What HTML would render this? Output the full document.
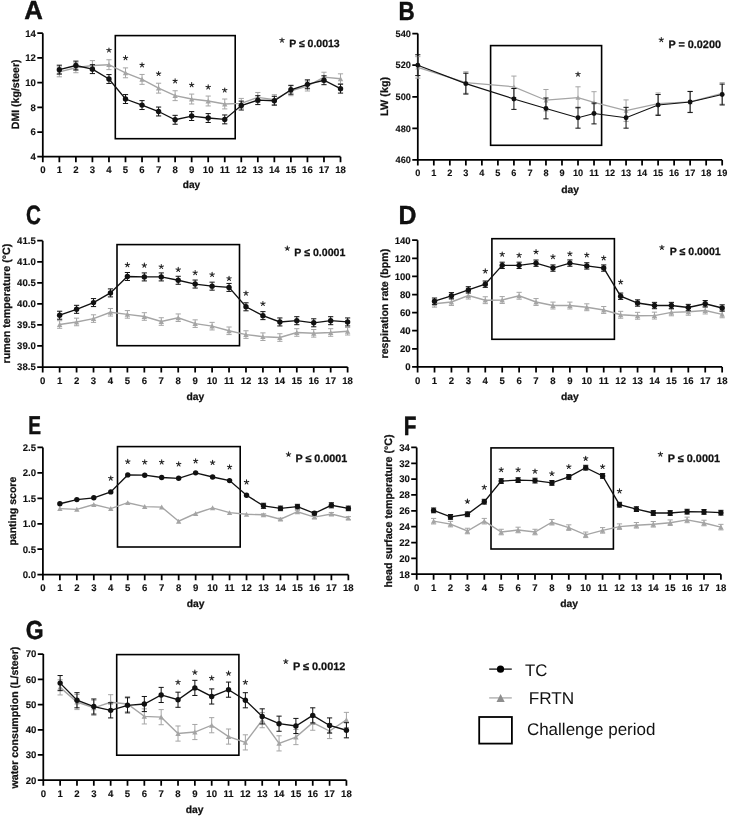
<!DOCTYPE html>
<html><head><meta charset="utf-8"><style>
html,body{margin:0;padding:0;background:#fff;}
svg{display:block;will-change:transform;}
text{font-family:"Liberation Sans", sans-serif;fill:#111;text-rendering:geometricPrecision;}
.tk{font-weight:bold;stroke:#111;stroke-width:0.12px;}
.as{font-weight:normal;}
.pt{font-weight:bold;stroke:#111;stroke-width:0.25px;}
.lt{font-weight:bold;stroke:#000;stroke-width:0.4px;}
.yl{font-weight:bold;stroke:#111;stroke-width:0.25px;}
.lg{font-size:16.5px;font-weight:normal;}
</style></head><body>
<svg width="729" height="817" viewBox="0 0 729 817">
<rect width="729" height="817" fill="#fff"/>
<path d="M42.8 33.2V156.7H340.52" fill="none" stroke="#000" stroke-width="1.75"/>
<text x="35.9" y="160.06" text-anchor="end" class="tk" style="font-size:9.6px">4</text>
<text x="35.9" y="135.36" text-anchor="end" class="tk" style="font-size:9.6px">6</text>
<text x="35.9" y="110.66" text-anchor="end" class="tk" style="font-size:9.6px">8</text>
<text x="35.9" y="85.96" text-anchor="end" class="tk" style="font-size:9.6px">10</text>
<text x="35.9" y="61.26" text-anchor="end" class="tk" style="font-size:9.6px">12</text>
<text x="35.9" y="36.56" text-anchor="end" class="tk" style="font-size:9.6px">14</text>
<text x="42.8" y="172.7" text-anchor="middle" class="tk" style="font-size:9.6px">0</text>
<text x="59.34" y="172.7" text-anchor="middle" class="tk" style="font-size:9.6px">1</text>
<text x="75.88" y="172.7" text-anchor="middle" class="tk" style="font-size:9.6px">2</text>
<text x="92.42" y="172.7" text-anchor="middle" class="tk" style="font-size:9.6px">3</text>
<text x="108.96" y="172.7" text-anchor="middle" class="tk" style="font-size:9.6px">4</text>
<text x="125.5" y="172.7" text-anchor="middle" class="tk" style="font-size:9.6px">5</text>
<text x="142.04" y="172.7" text-anchor="middle" class="tk" style="font-size:9.6px">6</text>
<text x="158.58" y="172.7" text-anchor="middle" class="tk" style="font-size:9.6px">7</text>
<text x="175.12" y="172.7" text-anchor="middle" class="tk" style="font-size:9.6px">8</text>
<text x="191.66" y="172.7" text-anchor="middle" class="tk" style="font-size:9.6px">9</text>
<text x="208.2" y="172.7" text-anchor="middle" class="tk" style="font-size:9.6px">10</text>
<text x="224.74" y="172.7" text-anchor="middle" class="tk" style="font-size:9.6px">11</text>
<text x="241.28" y="172.7" text-anchor="middle" class="tk" style="font-size:9.6px">12</text>
<text x="257.82" y="172.7" text-anchor="middle" class="tk" style="font-size:9.6px">13</text>
<text x="274.36" y="172.7" text-anchor="middle" class="tk" style="font-size:9.6px">14</text>
<text x="290.9" y="172.7" text-anchor="middle" class="tk" style="font-size:9.6px">15</text>
<text x="307.44" y="172.7" text-anchor="middle" class="tk" style="font-size:9.6px">16</text>
<text x="323.98" y="172.7" text-anchor="middle" class="tk" style="font-size:9.6px">17</text>
<text x="340.52" y="172.7" text-anchor="middle" class="tk" style="font-size:9.6px">18</text>
<path d="M37.3 156.7H42.8M37.3 132H42.8M37.3 107.3H42.8M37.3 82.6H42.8M37.3 57.9H42.8M37.3 33.2H42.8M42.8 156.7V162.2M59.34 156.7V162.2M75.88 156.7V162.2M92.42 156.7V162.2M108.96 156.7V162.2M125.5 156.7V162.2M142.04 156.7V162.2M158.58 156.7V162.2M175.12 156.7V162.2M191.66 156.7V162.2M208.2 156.7V162.2M224.74 156.7V162.2M241.28 156.7V162.2M257.82 156.7V162.2M274.36 156.7V162.2M290.9 156.7V162.2M307.44 156.7V162.2M323.98 156.7V162.2M340.52 156.7V162.2" fill="none" stroke="#000" stroke-width="1.75"/>
<rect x="115.3" y="35.6" width="119.9" height="103.1" fill="none" stroke="#000" stroke-width="1.6"/>
<path d="M59.34 66.92V76.8M56.74 66.92H61.94M56.74 76.8H61.94M75.88 62.84V72.72M73.28 62.84H78.48M73.28 72.72H78.48M92.42 60.62V70.5M89.82 60.62H95.02M89.82 70.5H95.02M108.96 59.75V69.63M106.36 59.75H111.56M106.36 69.63H111.56M125.5 67.9V77.78M122.9 67.9H128.1M122.9 77.78H128.1M142.04 74.45V84.33M139.44 74.45H144.64M139.44 84.33H144.64M158.58 83.22V93.1M155.98 83.22H161.18M155.98 93.1H161.18M175.12 90.75V100.63M172.52 90.75H177.72M172.52 100.63H177.72M191.66 94.09V103.97M189.06 94.09H194.26M189.06 103.97H194.26M208.2 96.06V105.94M205.6 96.06H210.8M205.6 105.94H210.8M224.74 99.03V108.91M222.14 99.03H227.34M222.14 108.91H227.34M241.28 98.41V108.29M238.68 98.41H243.88M238.68 108.29H243.88M257.82 92.48V102.36M255.22 92.48H260.42M255.22 102.36H260.42M274.36 94.7V104.58M271.76 94.7H276.96M271.76 104.58H276.96M290.9 85.81V95.69M288.3 85.81H293.5M288.3 95.69H293.5M307.44 81.12V91M304.84 81.12H310.04M304.84 91H310.04M323.98 72.23V82.11M321.38 72.23H326.58M321.38 82.11H326.58M340.52 73.83V83.71M337.92 73.83H343.12M337.92 83.71H343.12" fill="none" stroke="#a5a5a5" stroke-width="1"/>
<polyline points="59.34,71.86 75.88,67.78 92.42,65.56 108.96,64.69 125.5,72.84 142.04,79.39 158.58,88.16 175.12,95.69 191.66,99.03 208.2,101 224.74,103.97 241.28,103.35 257.82,97.42 274.36,99.64 290.9,90.75 307.44,86.06 323.98,77.17 340.52,78.77" fill="none" stroke="#a5a5a5" stroke-width="1.4"/>
<g fill="#a5a5a5"><path d="M59.34 69.31L62.02 74.28H56.66Z"/><path d="M75.88 65.23L78.56 70.2H73.2Z"/><path d="M92.42 63.01L95.1 67.98H89.74Z"/><path d="M108.96 62.14L111.64 67.12H106.28Z"/><path d="M125.5 70.29L128.18 75.27H122.82Z"/><path d="M142.04 76.84L144.72 81.81H139.36Z"/><path d="M158.58 85.61L161.26 90.58H155.9Z"/><path d="M175.12 93.14L177.8 98.11H172.44Z"/><path d="M191.66 96.48L194.34 101.45H188.98Z"/><path d="M208.2 98.45L210.88 103.42H205.52Z"/><path d="M224.74 101.42L227.42 106.39H222.06Z"/><path d="M241.28 100.8L243.96 105.77H238.6Z"/><path d="M257.82 94.87L260.5 99.84H255.14Z"/><path d="M274.36 97.09L277.04 102.07H271.68Z"/><path d="M290.9 88.2L293.58 93.17H288.22Z"/><path d="M307.44 83.51L310.12 88.48H304.76Z"/><path d="M323.98 74.62L326.66 79.59H321.3Z"/><path d="M340.52 76.22L343.2 81.19H337.84Z"/></g>
<path d="M59.34 65.19V74.08M56.74 65.19H61.94M56.74 74.08H61.94M75.88 61.11V70M73.28 61.11H78.48M73.28 70H78.48M92.42 64.69V73.58M89.82 64.69H95.02M89.82 73.58H95.02M108.96 74.57V83.46M106.36 74.57H111.56M106.36 83.46H111.56M125.5 94.58V103.47M122.9 94.58H128.1M122.9 103.47H128.1M142.04 100.63V109.52M139.44 100.63H144.64M139.44 109.52H144.64M158.58 107.05V115.94M155.98 107.05H161.18M155.98 115.94H161.18M175.12 115.33V124.22M172.52 115.33H177.72M172.52 124.22H177.72M191.66 111.62V120.51M189.06 111.62H194.26M189.06 120.51H194.26M208.2 113.6V122.49M205.6 113.6H210.8M205.6 122.49H210.8M224.74 114.96V123.85M222.14 114.96H227.34M222.14 123.85H227.34M241.28 101.12V110.02M238.68 101.12H243.88M238.68 110.02H243.88M257.82 95.69V104.58M255.22 95.69H260.42M255.22 104.58H260.42M274.36 96.31V105.2M271.76 96.31H276.96M271.76 105.2H276.96M290.9 85.32V94.21M288.3 85.32H293.5M288.3 94.21H293.5M307.44 79.88V88.78M304.84 79.88H310.04M304.84 88.78H310.04M323.98 75.81V84.7M321.38 75.81H326.58M321.38 84.7H326.58M340.52 84.21V93.1M337.92 84.21H343.12M337.92 93.1H343.12" fill="none" stroke="#111" stroke-width="1"/>
<polyline points="59.34,69.63 75.88,65.56 92.42,69.14 108.96,79.02 125.5,99.03 142.04,105.08 158.58,111.5 175.12,119.77 191.66,116.07 208.2,118.04 224.74,119.4 241.28,105.57 257.82,100.14 274.36,100.75 290.9,89.76 307.44,84.33 323.98,80.25 340.52,88.65" fill="none" stroke="#111" stroke-width="1.35"/>
<g fill="#111"><circle cx="59.34" cy="69.63" r="2.7"/><circle cx="75.88" cy="65.56" r="2.7"/><circle cx="92.42" cy="69.14" r="2.7"/><circle cx="108.96" cy="79.02" r="2.7"/><circle cx="125.5" cy="99.03" r="2.7"/><circle cx="142.04" cy="105.08" r="2.7"/><circle cx="158.58" cy="111.5" r="2.7"/><circle cx="175.12" cy="119.77" r="2.7"/><circle cx="191.66" cy="116.07" r="2.7"/><circle cx="208.2" cy="118.04" r="2.7"/><circle cx="224.74" cy="119.4" r="2.7"/><circle cx="241.28" cy="105.57" r="2.7"/><circle cx="257.82" cy="100.14" r="2.7"/><circle cx="274.36" cy="100.75" r="2.7"/><circle cx="290.9" cy="89.76" r="2.7"/><circle cx="307.44" cy="84.33" r="2.7"/><circle cx="323.98" cy="80.25" r="2.7"/><circle cx="340.52" cy="88.65" r="2.7"/></g>
<path d="M108.96 50.2L108.96 47.9M108.96 50.2L111.15 49.49M108.96 50.2L110.31 52.06M108.96 50.2L107.61 52.06M108.96 50.2L106.77 49.49M125.5 57.9L125.5 55.6M125.5 57.9L127.69 57.19M125.5 57.9L126.85 59.76M125.5 57.9L124.15 59.76M125.5 57.9L123.31 57.19M142.04 65L142.04 62.7M142.04 65L144.23 64.29M142.04 65L143.39 66.86M142.04 65L140.69 66.86M142.04 65L139.85 64.29M158.58 73.7L158.58 71.4M158.58 73.7L160.77 72.99M158.58 73.7L159.93 75.56M158.58 73.7L157.23 75.56M158.58 73.7L156.39 72.99M175.12 81L175.12 78.7M175.12 81L177.31 80.29M175.12 81L176.47 82.86M175.12 81L173.77 82.86M175.12 81L172.93 80.29M191.66 84.9L191.66 82.6M191.66 84.9L193.85 84.19M191.66 84.9L193.01 86.76M191.66 84.9L190.31 86.76M191.66 84.9L189.47 84.19M208.2 87.1L208.2 84.8M208.2 87.1L210.39 86.39M208.2 87.1L209.55 88.96M208.2 87.1L206.85 88.96M208.2 87.1L206.01 86.39M224.74 90.2L224.74 87.9M224.74 90.2L226.93 89.49M224.74 90.2L226.09 92.06M224.74 90.2L223.39 92.06M224.74 90.2L222.55 89.49M282 40.3L282 38M282 40.3L284.19 39.59M282 40.3L283.35 42.16M282 40.3L280.65 42.16M282 40.3L279.81 39.59" fill="none" stroke="#222" stroke-width="1.05" stroke-linecap="round"/>
<text x="289.2" y="47.3" class="pt" style="font-size:10.5px">P ≤ 0.0013</text>
<text transform="translate(24.3 19.4) scale(0.98 1)" class="lt" style="font-size:26.3px">A</text>
<text transform="translate(18.9 94.3) rotate(-90)" text-anchor="middle" class="yl" style="font-size:10.55px">DMI (kg/steer)</text>
<text x="191.5" y="188.3" text-anchor="middle" class="yl" style="font-size:10.1px">day</text>
<path d="M417.8 33.6V159.9H722.18" fill="none" stroke="#000" stroke-width="1.75"/>
<text x="410.9" y="163.12" text-anchor="end" class="tk" style="font-size:9.2px">460</text>
<text x="410.9" y="131.54" text-anchor="end" class="tk" style="font-size:9.2px">480</text>
<text x="410.9" y="99.97" text-anchor="end" class="tk" style="font-size:9.2px">500</text>
<text x="410.9" y="68.39" text-anchor="end" class="tk" style="font-size:9.2px">520</text>
<text x="410.9" y="36.82" text-anchor="end" class="tk" style="font-size:9.2px">540</text>
<text x="417.8" y="176.2" text-anchor="middle" class="tk" style="font-size:9.2px">0</text>
<text x="433.82" y="176.2" text-anchor="middle" class="tk" style="font-size:9.2px">1</text>
<text x="449.84" y="176.2" text-anchor="middle" class="tk" style="font-size:9.2px">2</text>
<text x="465.86" y="176.2" text-anchor="middle" class="tk" style="font-size:9.2px">3</text>
<text x="481.88" y="176.2" text-anchor="middle" class="tk" style="font-size:9.2px">4</text>
<text x="497.9" y="176.2" text-anchor="middle" class="tk" style="font-size:9.2px">5</text>
<text x="513.92" y="176.2" text-anchor="middle" class="tk" style="font-size:9.2px">6</text>
<text x="529.94" y="176.2" text-anchor="middle" class="tk" style="font-size:9.2px">7</text>
<text x="545.96" y="176.2" text-anchor="middle" class="tk" style="font-size:9.2px">8</text>
<text x="561.98" y="176.2" text-anchor="middle" class="tk" style="font-size:9.2px">9</text>
<text x="578" y="176.2" text-anchor="middle" class="tk" style="font-size:9.2px">10</text>
<text x="594.02" y="176.2" text-anchor="middle" class="tk" style="font-size:9.2px">11</text>
<text x="610.04" y="176.2" text-anchor="middle" class="tk" style="font-size:9.2px">12</text>
<text x="626.06" y="176.2" text-anchor="middle" class="tk" style="font-size:9.2px">13</text>
<text x="642.08" y="176.2" text-anchor="middle" class="tk" style="font-size:9.2px">14</text>
<text x="658.1" y="176.2" text-anchor="middle" class="tk" style="font-size:9.2px">15</text>
<text x="674.12" y="176.2" text-anchor="middle" class="tk" style="font-size:9.2px">16</text>
<text x="690.14" y="176.2" text-anchor="middle" class="tk" style="font-size:9.2px">17</text>
<text x="706.16" y="176.2" text-anchor="middle" class="tk" style="font-size:9.2px">18</text>
<text x="722.18" y="176.2" text-anchor="middle" class="tk" style="font-size:9.2px">19</text>
<path d="M412.3 159.9H417.8M412.3 128.32H417.8M412.3 96.75H417.8M412.3 65.17H417.8M412.3 33.6H417.8M417.8 159.9V165.4M433.82 159.9V165.4M449.84 159.9V165.4M465.86 159.9V165.4M481.88 159.9V165.4M497.9 159.9V165.4M513.92 159.9V165.4M529.94 159.9V165.4M545.96 159.9V165.4M561.98 159.9V165.4M578 159.9V165.4M594.02 159.9V165.4M610.04 159.9V165.4M626.06 159.9V165.4M642.08 159.9V165.4M658.1 159.9V165.4M674.12 159.9V165.4M690.14 159.9V165.4M706.16 159.9V165.4M722.18 159.9V165.4" fill="none" stroke="#000" stroke-width="1.75"/>
<rect x="490.6" y="45.6" width="111" height="99.7" fill="none" stroke="#000" stroke-width="1.6"/>
<path d="M417.8 56.65V78.12M415.2 56.65H420.4M415.2 78.12H420.4M465.86 71.81V93.28M463.26 71.81H468.46M463.26 93.28H468.46M513.92 76.07V97.54M511.32 76.07H516.52M511.32 97.54H516.52M545.96 89.49V110.96M543.36 89.49H548.56M543.36 110.96H548.56M578 86.8V108.27M575.4 86.8H580.6M575.4 108.27H580.6M594.02 91.7V113.17M591.42 91.7H596.62M591.42 113.17H596.62M626.06 99.91V121.38M623.46 99.91H628.66M623.46 121.38H628.66M658.1 92.96V114.43M655.5 92.96H660.7M655.5 114.43H660.7M690.14 91.22V112.7M687.54 91.22H692.74M687.54 112.7H692.74M722.18 82.7V104.17M719.58 82.7H724.78M719.58 104.17H724.78" fill="none" stroke="#a5a5a5" stroke-width="1"/>
<polyline points="417.8,67.39 465.86,82.54 513.92,86.8 545.96,100.22 578,97.54 594.02,102.43 626.06,110.64 658.1,103.7 690.14,101.96 722.18,93.43" fill="none" stroke="#a5a5a5" stroke-width="1.25"/>
<g fill="#a5a5a5"><path d="M417.8 65.09L420.22 69.57H415.38Z"/><path d="M465.86 80.24L468.28 84.73H463.44Z"/><path d="M513.92 84.5L516.34 88.99H511.51Z"/><path d="M545.96 97.92L548.38 102.41H543.55Z"/><path d="M578 95.24L580.41 99.72H575.59Z"/><path d="M594.02 100.13L596.43 104.62H591.61Z"/><path d="M626.06 108.34L628.47 112.83H623.64Z"/><path d="M658.1 101.4L660.51 105.88H655.69Z"/><path d="M690.14 99.66L692.55 104.14H687.73Z"/><path d="M722.18 91.13L724.6 95.62H719.77Z"/></g>
<path d="M417.8 54.76V75.59M415.2 54.76H420.4M415.2 75.59H420.4M465.86 73.23V94.07M463.26 73.23H468.46M463.26 94.07H468.46M513.92 88.54V109.38M511.32 88.54H516.52M511.32 109.38H516.52M545.96 98.01V118.85M543.36 98.01H548.56M543.36 118.85H548.56M578 107.33V128.17M575.4 107.33H580.6M575.4 128.17H580.6M594.02 103.07V123.9M591.42 103.07H596.62M591.42 123.9H596.62M626.06 107.33V128.17M623.46 107.33H628.66M623.46 128.17H628.66M658.1 94.54V115.38M655.5 94.54H660.7M655.5 115.38H660.7M690.14 91.54V112.38M687.54 91.54H692.74M687.54 112.38H692.74M722.18 84.12V104.96M719.58 84.12H724.78M719.58 104.96H724.78" fill="none" stroke="#111" stroke-width="1"/>
<polyline points="417.8,65.17 465.86,83.65 513.92,98.96 545.96,108.43 578,117.75 594.02,113.48 626.06,117.75 658.1,104.96 690.14,101.96 722.18,94.54" fill="none" stroke="#111" stroke-width="1.15"/>
<g fill="#111"><circle cx="417.8" cy="65.17" r="2.45"/><circle cx="465.86" cy="83.65" r="2.45"/><circle cx="513.92" cy="98.96" r="2.45"/><circle cx="545.96" cy="108.43" r="2.45"/><circle cx="578" cy="117.75" r="2.45"/><circle cx="594.02" cy="113.48" r="2.45"/><circle cx="626.06" cy="117.75" r="2.45"/><circle cx="658.1" cy="104.96" r="2.45"/><circle cx="690.14" cy="101.96" r="2.45"/><circle cx="722.18" cy="94.54" r="2.45"/></g>
<path d="M578 74.3L578 72M578 74.3L580.19 73.59M578 74.3L579.35 76.16M578 74.3L576.65 76.16M578 74.3L575.81 73.59M661.3 39.8L661.3 37.5M661.3 39.8L663.49 39.09M661.3 39.8L662.65 41.66M661.3 39.8L659.95 41.66M661.3 39.8L659.11 39.09" fill="none" stroke="#222" stroke-width="1.05" stroke-linecap="round"/>
<text x="668.4" y="47.9" class="pt" style="font-size:10.85px">P = 0.0200</text>
<text transform="translate(398.4 19.6) scale(0.857 1)" class="lt" style="font-size:26.2px">B</text>
<text transform="translate(387.6 96.4) rotate(-90)" text-anchor="middle" class="yl" style="font-size:10.8px">LW (kg)</text>
<text x="570" y="192.8" text-anchor="middle" class="yl" style="font-size:10.3px">day</text>
<path d="M42.7 240.7V367H347.62" fill="none" stroke="#000" stroke-width="1.75"/>
<text x="35.8" y="370.36" text-anchor="end" class="tk" style="font-size:9.6px">38.5</text>
<text x="35.8" y="349.31" text-anchor="end" class="tk" style="font-size:9.6px">39.0</text>
<text x="35.8" y="328.26" text-anchor="end" class="tk" style="font-size:9.6px">39.5</text>
<text x="35.8" y="307.21" text-anchor="end" class="tk" style="font-size:9.6px">40.0</text>
<text x="35.8" y="286.16" text-anchor="end" class="tk" style="font-size:9.6px">40.5</text>
<text x="35.8" y="265.11" text-anchor="end" class="tk" style="font-size:9.6px">41.0</text>
<text x="35.8" y="244.06" text-anchor="end" class="tk" style="font-size:9.6px">41.5</text>
<text x="42.7" y="383.6" text-anchor="middle" class="tk" style="font-size:9.6px">0</text>
<text x="59.64" y="383.6" text-anchor="middle" class="tk" style="font-size:9.6px">1</text>
<text x="76.58" y="383.6" text-anchor="middle" class="tk" style="font-size:9.6px">2</text>
<text x="93.52" y="383.6" text-anchor="middle" class="tk" style="font-size:9.6px">3</text>
<text x="110.46" y="383.6" text-anchor="middle" class="tk" style="font-size:9.6px">4</text>
<text x="127.4" y="383.6" text-anchor="middle" class="tk" style="font-size:9.6px">5</text>
<text x="144.34" y="383.6" text-anchor="middle" class="tk" style="font-size:9.6px">6</text>
<text x="161.28" y="383.6" text-anchor="middle" class="tk" style="font-size:9.6px">7</text>
<text x="178.22" y="383.6" text-anchor="middle" class="tk" style="font-size:9.6px">8</text>
<text x="195.16" y="383.6" text-anchor="middle" class="tk" style="font-size:9.6px">9</text>
<text x="212.1" y="383.6" text-anchor="middle" class="tk" style="font-size:9.6px">10</text>
<text x="229.04" y="383.6" text-anchor="middle" class="tk" style="font-size:9.6px">11</text>
<text x="245.98" y="383.6" text-anchor="middle" class="tk" style="font-size:9.6px">12</text>
<text x="262.92" y="383.6" text-anchor="middle" class="tk" style="font-size:9.6px">13</text>
<text x="279.86" y="383.6" text-anchor="middle" class="tk" style="font-size:9.6px">14</text>
<text x="296.8" y="383.6" text-anchor="middle" class="tk" style="font-size:9.6px">15</text>
<text x="313.74" y="383.6" text-anchor="middle" class="tk" style="font-size:9.6px">16</text>
<text x="330.68" y="383.6" text-anchor="middle" class="tk" style="font-size:9.6px">17</text>
<text x="347.62" y="383.6" text-anchor="middle" class="tk" style="font-size:9.6px">18</text>
<path d="M37.2 367H42.7M37.2 345.95H42.7M37.2 324.9H42.7M37.2 303.85H42.7M37.2 282.8H42.7M37.2 261.75H42.7M37.2 240.7H42.7M42.7 367V372.5M59.64 367V372.5M76.58 367V372.5M93.52 367V372.5M110.46 367V372.5M127.4 367V372.5M144.34 367V372.5M161.28 367V372.5M178.22 367V372.5M195.16 367V372.5M212.1 367V372.5M229.04 367V372.5M245.98 367V372.5M262.92 367V372.5M279.86 367V372.5M296.8 367V372.5M313.74 367V372.5M330.68 367V372.5M347.62 367V372.5" fill="none" stroke="#000" stroke-width="1.75"/>
<rect x="117" y="244.6" width="122.5" height="101.1" fill="none" stroke="#000" stroke-width="1.6"/>
<path d="M59.64 320.69V328.27M57.04 320.69H62.24M57.04 328.27H62.24M76.58 318.16V325.74M73.98 318.16H79.18M73.98 325.74H79.18M93.52 314.8V322.37M90.92 314.8H96.12M90.92 322.37H96.12M110.46 308.48V316.06M107.86 308.48H113.06M107.86 316.06H113.06M127.4 310.59V318.16M124.8 310.59H130M124.8 318.16H130M144.34 312.69V320.27M141.74 312.69H146.94M141.74 320.27H146.94M161.28 317.74V325.32M158.68 317.74H163.88M158.68 325.32H163.88M178.22 313.95V321.53M175.62 313.95H180.82M175.62 321.53H180.82M195.16 319.85V327.43M192.56 319.85H197.76M192.56 327.43H197.76M212.1 322.37V329.95M209.5 322.37H214.7M209.5 329.95H214.7M229.04 327.01V334.58M226.44 327.01H231.64M226.44 334.58H231.64M245.98 330.79V338.37M243.38 330.79H248.58M243.38 338.37H248.58M262.92 332.9V340.48M260.32 332.9H265.52M260.32 340.48H265.52M279.86 333.74V341.32M277.26 333.74H282.46M277.26 341.32H282.46M296.8 328.69V336.27M294.2 328.69H299.4M294.2 336.27H299.4M313.74 329.53V337.11M311.14 329.53H316.34M311.14 337.11H316.34M330.68 328.69V336.27M328.08 328.69H333.28M328.08 336.27H333.28M347.62 327.43V335M345.02 327.43H350.22M345.02 335H350.22" fill="none" stroke="#a5a5a5" stroke-width="1"/>
<polyline points="59.64,324.48 76.58,321.95 93.52,318.59 110.46,312.27 127.4,314.38 144.34,316.48 161.28,321.53 178.22,317.74 195.16,323.64 212.1,326.16 229.04,330.79 245.98,334.58 262.92,336.69 279.86,337.53 296.8,332.48 313.74,333.32 330.68,332.48 347.62,331.21" fill="none" stroke="#a5a5a5" stroke-width="1.4"/>
<g fill="#a5a5a5"><path d="M59.64 321.93L62.32 326.9H56.96Z"/><path d="M76.58 319.4L79.26 324.38H73.9Z"/><path d="M93.52 316.04L96.2 321.01H90.84Z"/><path d="M110.46 309.72L113.14 314.69H107.78Z"/><path d="M127.4 311.82L130.08 316.8H124.72Z"/><path d="M144.34 313.93L147.02 318.9H141.66Z"/><path d="M161.28 318.98L163.96 323.95H158.6Z"/><path d="M178.22 315.19L180.9 320.17H175.54Z"/><path d="M195.16 321.09L197.84 326.06H192.48Z"/><path d="M212.1 323.61L214.78 328.59H209.42Z"/><path d="M229.04 328.24L231.72 333.22H226.36Z"/><path d="M245.98 332.03L248.66 337.01H243.3Z"/><path d="M262.92 334.14L265.6 339.11H260.24Z"/><path d="M279.86 334.98L282.54 339.95H277.18Z"/><path d="M296.8 329.93L299.48 334.9H294.12Z"/><path d="M313.74 330.77L316.42 335.74H311.06Z"/><path d="M330.68 329.93L333.36 334.9H328Z"/><path d="M347.62 328.66L350.3 333.64H344.94Z"/></g>
<path d="M59.64 311.22V319.22M57.04 311.22H62.24M57.04 319.22H62.24M76.58 305.32V313.32M73.98 305.32H79.18M73.98 313.32H79.18M93.52 298.59V306.59M90.92 298.59H96.12M90.92 306.59H96.12M110.46 288.9V296.9M107.86 288.9H113.06M107.86 296.9H113.06M127.4 272.49V280.48M124.8 272.49H130M124.8 280.48H130M144.34 272.91V280.91M141.74 272.91H146.94M141.74 280.91H146.94M161.28 272.91V280.91M158.68 272.91H163.88M158.68 280.91H163.88M178.22 276.27V284.27M175.62 276.27H180.82M175.62 284.27H180.82M195.16 280.06V288.06M192.56 280.06H197.76M192.56 288.06H197.76M212.1 282.17V290.17M209.5 282.17H214.7M209.5 290.17H214.7M229.04 283.43V291.43M226.44 283.43H231.64M226.44 291.43H231.64M245.98 302.8V310.8M243.38 302.8H248.58M243.38 310.8H248.58M262.92 311.64V319.64M260.32 311.64H265.52M260.32 319.64H265.52M279.86 317.95V325.95M277.26 317.95H282.46M277.26 325.95H282.46M296.8 316.69V324.69M294.2 316.69H299.4M294.2 324.69H299.4M313.74 318.8V326.79M311.14 318.8H316.34M311.14 326.79H316.34M330.68 316.69V324.69M328.08 316.69H333.28M328.08 324.69H333.28M347.62 317.95V325.95M345.02 317.95H350.22M345.02 325.95H350.22" fill="none" stroke="#111" stroke-width="1"/>
<polyline points="59.64,315.22 76.58,309.32 93.52,302.59 110.46,292.9 127.4,276.49 144.34,276.91 161.28,276.91 178.22,280.27 195.16,284.06 212.1,286.17 229.04,287.43 245.98,306.8 262.92,315.64 279.86,321.95 296.8,320.69 313.74,322.8 330.68,320.69 347.62,321.95" fill="none" stroke="#111" stroke-width="1.35"/>
<g fill="#111"><circle cx="59.64" cy="315.22" r="2.7"/><circle cx="76.58" cy="309.32" r="2.7"/><circle cx="93.52" cy="302.59" r="2.7"/><circle cx="110.46" cy="292.9" r="2.7"/><circle cx="127.4" cy="276.49" r="2.7"/><circle cx="144.34" cy="276.91" r="2.7"/><circle cx="161.28" cy="276.91" r="2.7"/><circle cx="178.22" cy="280.27" r="2.7"/><circle cx="195.16" cy="284.06" r="2.7"/><circle cx="212.1" cy="286.17" r="2.7"/><circle cx="229.04" cy="287.43" r="2.7"/><circle cx="245.98" cy="306.8" r="2.7"/><circle cx="262.92" cy="315.64" r="2.7"/><circle cx="279.86" cy="321.95" r="2.7"/><circle cx="296.8" cy="320.69" r="2.7"/><circle cx="313.74" cy="322.8" r="2.7"/><circle cx="330.68" cy="320.69" r="2.7"/><circle cx="347.62" cy="321.95" r="2.7"/></g>
<path d="M127.4 264.9L127.4 262.6M127.4 264.9L129.59 264.19M127.4 264.9L128.75 266.76M127.4 264.9L126.05 266.76M127.4 264.9L125.21 264.19M144.34 265.4L144.34 263.1M144.34 265.4L146.53 264.69M144.34 265.4L145.69 267.26M144.34 265.4L142.99 267.26M144.34 265.4L142.15 264.69M161.28 266.7L161.28 264.4M161.28 266.7L163.47 265.99M161.28 266.7L162.63 268.56M161.28 266.7L159.93 268.56M161.28 266.7L159.09 265.99M178.22 269.6L178.22 267.3M178.22 269.6L180.41 268.89M178.22 269.6L179.57 271.46M178.22 269.6L176.87 271.46M178.22 269.6L176.03 268.89M195.16 272.8L195.16 270.5M195.16 272.8L197.35 272.09M195.16 272.8L196.51 274.66M195.16 272.8L193.81 274.66M195.16 272.8L192.97 272.09M212.1 274.6L212.1 272.3M212.1 274.6L214.29 273.89M212.1 274.6L213.45 276.46M212.1 274.6L210.75 276.46M212.1 274.6L209.91 273.89M229.04 278.5L229.04 276.2M229.04 278.5L231.23 277.79M229.04 278.5L230.39 280.36M229.04 278.5L227.69 280.36M229.04 278.5L226.85 277.79M245.98 293.3L245.98 291M245.98 293.3L248.17 292.59M245.98 293.3L247.33 295.16M245.98 293.3L244.63 295.16M245.98 293.3L243.79 292.59M262.92 303.7L262.92 301.4M262.92 303.7L265.11 302.99M262.92 303.7L264.27 305.56M262.92 303.7L261.57 305.56M262.92 303.7L260.73 302.99M287.3 248.4L287.3 246.1M287.3 248.4L289.49 247.69M287.3 248.4L288.65 250.26M287.3 248.4L285.95 250.26M287.3 248.4L285.11 247.69" fill="none" stroke="#222" stroke-width="1.05" stroke-linecap="round"/>
<text x="294.35" y="255.7" class="pt" style="font-size:10.6px">P ≤ 0.0001</text>
<text transform="translate(26 224.2) scale(0.78 1)" class="lt" style="font-size:26.5px">C</text>
<text transform="translate(9.9 303.55) rotate(-90)" text-anchor="middle" class="yl" style="font-size:10.73px">rumen temperature (°C)</text>
<text x="195.3" y="399.8" text-anchor="middle" class="yl" style="font-size:10.3px">day</text>
<path d="M417.6 240.2V366.9H722.16" fill="none" stroke="#000" stroke-width="1.75"/>
<text x="410.7" y="370.26" text-anchor="end" class="tk" style="font-size:9.6px">0</text>
<text x="410.7" y="352.16" text-anchor="end" class="tk" style="font-size:9.6px">20</text>
<text x="410.7" y="334.06" text-anchor="end" class="tk" style="font-size:9.6px">40</text>
<text x="410.7" y="315.96" text-anchor="end" class="tk" style="font-size:9.6px">60</text>
<text x="410.7" y="297.86" text-anchor="end" class="tk" style="font-size:9.6px">80</text>
<text x="410.7" y="279.76" text-anchor="end" class="tk" style="font-size:9.6px">100</text>
<text x="410.7" y="261.66" text-anchor="end" class="tk" style="font-size:9.6px">120</text>
<text x="410.7" y="243.56" text-anchor="end" class="tk" style="font-size:9.6px">140</text>
<text x="417.6" y="383.6" text-anchor="middle" class="tk" style="font-size:9.6px">0</text>
<text x="434.52" y="383.6" text-anchor="middle" class="tk" style="font-size:9.6px">1</text>
<text x="451.44" y="383.6" text-anchor="middle" class="tk" style="font-size:9.6px">2</text>
<text x="468.36" y="383.6" text-anchor="middle" class="tk" style="font-size:9.6px">3</text>
<text x="485.28" y="383.6" text-anchor="middle" class="tk" style="font-size:9.6px">4</text>
<text x="502.2" y="383.6" text-anchor="middle" class="tk" style="font-size:9.6px">5</text>
<text x="519.12" y="383.6" text-anchor="middle" class="tk" style="font-size:9.6px">6</text>
<text x="536.04" y="383.6" text-anchor="middle" class="tk" style="font-size:9.6px">7</text>
<text x="552.96" y="383.6" text-anchor="middle" class="tk" style="font-size:9.6px">8</text>
<text x="569.88" y="383.6" text-anchor="middle" class="tk" style="font-size:9.6px">9</text>
<text x="586.8" y="383.6" text-anchor="middle" class="tk" style="font-size:9.6px">10</text>
<text x="603.72" y="383.6" text-anchor="middle" class="tk" style="font-size:9.6px">11</text>
<text x="620.64" y="383.6" text-anchor="middle" class="tk" style="font-size:9.6px">12</text>
<text x="637.56" y="383.6" text-anchor="middle" class="tk" style="font-size:9.6px">13</text>
<text x="654.48" y="383.6" text-anchor="middle" class="tk" style="font-size:9.6px">14</text>
<text x="671.4" y="383.6" text-anchor="middle" class="tk" style="font-size:9.6px">15</text>
<text x="688.32" y="383.6" text-anchor="middle" class="tk" style="font-size:9.6px">16</text>
<text x="705.24" y="383.6" text-anchor="middle" class="tk" style="font-size:9.6px">17</text>
<text x="722.16" y="383.6" text-anchor="middle" class="tk" style="font-size:9.6px">18</text>
<path d="M412.1 366.9H417.6M412.1 348.8H417.6M412.1 330.7H417.6M412.1 312.6H417.6M412.1 294.5H417.6M412.1 276.4H417.6M412.1 258.3H417.6M412.1 240.2H417.6M417.6 366.9V372.4M434.52 366.9V372.4M451.44 366.9V372.4M468.36 366.9V372.4M485.28 366.9V372.4M502.2 366.9V372.4M519.12 366.9V372.4M536.04 366.9V372.4M552.96 366.9V372.4M569.88 366.9V372.4M586.8 366.9V372.4M603.72 366.9V372.4M620.64 366.9V372.4M637.56 366.9V372.4M654.48 366.9V372.4M671.4 366.9V372.4M688.32 366.9V372.4M705.24 366.9V372.4M722.16 366.9V372.4" fill="none" stroke="#000" stroke-width="1.75"/>
<rect x="491.9" y="238.7" width="122.5" height="100.6" fill="none" stroke="#000" stroke-width="1.6"/>
<path d="M434.52 300.29V307.17M431.92 300.29H437.12M431.92 307.17H437.12M451.44 298.57V305.45M448.84 298.57H454.04M448.84 305.45H454.04M468.36 292.15V299.03M465.76 292.15H470.96M465.76 299.03H470.96M485.28 296.76V303.64M482.68 296.76H487.88M482.68 303.64H487.88M502.2 296.58V303.46M499.6 296.58H504.8M499.6 303.46H504.8M519.12 292.33V299.21M516.52 292.33H521.72M516.52 299.21H521.72M536.04 298.57V305.45M533.44 298.57H538.64M533.44 305.45H538.64M552.96 302.1V308.98M550.36 302.1H555.56M550.36 308.98H555.56M569.88 302.1V308.98M567.28 302.1H572.48M567.28 308.98H572.48M586.8 303.82V310.7M584.2 303.82H589.4M584.2 310.7H589.4M603.72 306.54V313.41M601.12 306.54H606.32M601.12 313.41H606.32M620.64 311.33V318.21M618.04 311.33H623.24M618.04 318.21H623.24M637.56 312.33V319.21M634.96 312.33H640.16M634.96 319.21H640.16M654.48 312.15V319.03M651.88 312.15H657.08M651.88 319.03H657.08M671.4 308.89V315.77M668.8 308.89H674M668.8 315.77H674M688.32 308.35V315.22M685.72 308.35H690.92M685.72 315.22H690.92M705.24 307.08V313.96M702.64 307.08H707.84M702.64 313.96H707.84M722.16 310.88V317.76M719.56 310.88H724.76M719.56 317.76H724.76" fill="none" stroke="#a5a5a5" stroke-width="1"/>
<polyline points="434.52,303.73 451.44,302.01 468.36,295.59 485.28,300.2 502.2,300.02 519.12,295.77 536.04,302.01 552.96,305.54 569.88,305.54 586.8,307.26 603.72,309.98 620.64,314.77 637.56,315.77 654.48,315.59 671.4,312.33 688.32,311.79 705.24,310.52 722.16,314.32" fill="none" stroke="#a5a5a5" stroke-width="1.4"/>
<g fill="#a5a5a5"><path d="M434.52 301.18L437.2 306.15H431.84Z"/><path d="M451.44 299.46L454.12 304.43H448.76Z"/><path d="M468.36 293.04L471.04 298.01H465.68Z"/><path d="M485.28 297.65L487.96 302.62H482.6Z"/><path d="M502.2 297.47L504.88 302.44H499.52Z"/><path d="M519.12 293.22L521.8 298.19H516.44Z"/><path d="M536.04 299.46L538.72 304.43H533.36Z"/><path d="M552.96 302.99L555.64 307.96H550.28Z"/><path d="M569.88 302.99L572.56 307.96H567.2Z"/><path d="M586.8 304.71L589.48 309.68H584.12Z"/><path d="M603.72 307.43L606.4 312.4H601.04Z"/><path d="M620.64 312.22L623.32 317.19H617.96Z"/><path d="M637.56 313.22L640.24 318.19H634.88Z"/><path d="M654.48 313.04L657.16 318.01H651.8Z"/><path d="M671.4 309.78L674.08 314.75H668.72Z"/><path d="M688.32 309.24L691 314.21H685.64Z"/><path d="M705.24 307.97L707.92 312.94H702.56Z"/><path d="M722.16 311.77L724.84 316.74H719.48Z"/></g>
<path d="M434.52 298.03V304.36M431.92 298.03H437.12M431.92 304.36H437.12M451.44 292.6V298.93M448.84 292.6H454.04M448.84 298.93H454.04M468.36 286.72V293.05M465.76 286.72H470.96M465.76 293.05H470.96M485.28 281.02V287.35M482.68 281.02H487.88M482.68 287.35H487.88M502.2 262.19V268.53M499.6 262.19H504.8M499.6 268.53H504.8M519.12 262.19V268.53M516.52 262.19H521.72M516.52 268.53H521.72M536.04 260.02V266.35M533.44 260.02H538.64M533.44 266.35H538.64M552.96 264.91V271.24M550.36 264.91H555.56M550.36 271.24H555.56M569.88 259.93V266.26M567.28 259.93H572.48M567.28 266.26H572.48M586.8 262.73V269.07M584.2 262.73H589.4M584.2 269.07H589.4M603.72 264.91V271.24M601.12 264.91H606.32M601.12 271.24H606.32M620.64 293.05V299.39M618.04 293.05H623.24M618.04 299.39H623.24M637.56 299.84V306.17M634.96 299.84H640.16M634.96 306.17H640.16M654.48 302.37V308.71M651.88 302.37H657.08M651.88 308.71H657.08M671.4 302.37V308.71M668.8 302.37H674M668.8 308.71H674M688.32 304.36V310.7M685.72 304.36H690.92M685.72 310.7H690.92M705.24 300.56V306.9M702.64 300.56H707.84M702.64 306.9H707.84M722.16 304.82V311.15M719.56 304.82H724.76M719.56 311.15H724.76" fill="none" stroke="#111" stroke-width="1"/>
<polyline points="434.52,301.2 451.44,295.77 468.36,289.88 485.28,284.18 502.2,265.36 519.12,265.36 536.04,263.19 552.96,268.07 569.88,263.1 586.8,265.9 603.72,268.07 620.64,296.22 637.56,303.01 654.48,305.54 671.4,305.54 688.32,307.53 705.24,303.73 722.16,307.98" fill="none" stroke="#111" stroke-width="1.35"/>
<g fill="#111"><circle cx="434.52" cy="301.2" r="2.7"/><circle cx="451.44" cy="295.77" r="2.7"/><circle cx="468.36" cy="289.88" r="2.7"/><circle cx="485.28" cy="284.18" r="2.7"/><circle cx="502.2" cy="265.36" r="2.7"/><circle cx="519.12" cy="265.36" r="2.7"/><circle cx="536.04" cy="263.19" r="2.7"/><circle cx="552.96" cy="268.07" r="2.7"/><circle cx="569.88" cy="263.1" r="2.7"/><circle cx="586.8" cy="265.9" r="2.7"/><circle cx="603.72" cy="268.07" r="2.7"/><circle cx="620.64" cy="296.22" r="2.7"/><circle cx="637.56" cy="303.01" r="2.7"/><circle cx="654.48" cy="305.54" r="2.7"/><circle cx="671.4" cy="305.54" r="2.7"/><circle cx="688.32" cy="307.53" r="2.7"/><circle cx="705.24" cy="303.73" r="2.7"/><circle cx="722.16" cy="307.98" r="2.7"/></g>
<path d="M485.28 271.1L485.28 268.8M485.28 271.1L487.47 270.39M485.28 271.1L486.63 272.96M485.28 271.1L483.93 272.96M485.28 271.1L483.09 270.39M502.2 254.3L502.2 252M502.2 254.3L504.39 253.59M502.2 254.3L503.55 256.16M502.2 254.3L500.85 256.16M502.2 254.3L500.01 253.59M519.12 255.3L519.12 253M519.12 255.3L521.31 254.59M519.12 255.3L520.47 257.16M519.12 255.3L517.77 257.16M519.12 255.3L516.93 254.59M536.04 251.9L536.04 249.6M536.04 251.9L538.23 251.19M536.04 251.9L537.39 253.76M536.04 251.9L534.69 253.76M536.04 251.9L533.85 251.19M552.96 256.8L552.96 254.5M552.96 256.8L555.15 256.09M552.96 256.8L554.31 258.66M552.96 256.8L551.61 258.66M552.96 256.8L550.77 256.09M569.88 253.8L569.88 251.5M569.88 253.8L572.07 253.09M569.88 253.8L571.23 255.66M569.88 253.8L568.53 255.66M569.88 253.8L567.69 253.09M586.8 255L586.8 252.7M586.8 255L588.99 254.29M586.8 255L588.15 256.86M586.8 255L585.45 256.86M586.8 255L584.61 254.29M603.72 258L603.72 255.7M603.72 258L605.91 257.29M603.72 258L605.07 259.86M603.72 258L602.37 259.86M603.72 258L601.53 257.29M620.64 282L620.64 279.7M620.64 282L622.83 281.29M620.64 282L621.99 283.86M620.64 282L619.29 283.86M620.64 282L618.45 281.29M661.9 247.5L661.9 245.2M661.9 247.5L664.09 246.79M661.9 247.5L663.25 249.36M661.9 247.5L660.55 249.36M661.9 247.5L659.71 246.79" fill="none" stroke="#222" stroke-width="1.05" stroke-linecap="round"/>
<text x="669.7" y="255.3" class="pt" style="font-size:10.6px">P ≤ 0.0001</text>
<text transform="translate(398.4 224.2) scale(0.95 1)" class="lt" style="font-size:26.2px">D</text>
<text transform="translate(387.6 303.65) rotate(-90)" text-anchor="middle" class="yl" style="font-size:10.62px">respiration rate (bpm)</text>
<text x="569.95" y="399.5" text-anchor="middle" class="yl" style="font-size:10.3px">day</text>
<path d="M42.9 447.4V574.7H348.36" fill="none" stroke="#000" stroke-width="1.75"/>
<text x="36" y="578.06" text-anchor="end" class="tk" style="font-size:9.6px">0.0</text>
<text x="36" y="552.6" text-anchor="end" class="tk" style="font-size:9.6px">0.5</text>
<text x="36" y="527.14" text-anchor="end" class="tk" style="font-size:9.6px">1.0</text>
<text x="36" y="501.68" text-anchor="end" class="tk" style="font-size:9.6px">1.5</text>
<text x="36" y="476.22" text-anchor="end" class="tk" style="font-size:9.6px">2.0</text>
<text x="36" y="450.76" text-anchor="end" class="tk" style="font-size:9.6px">2.5</text>
<text x="42.9" y="591.3" text-anchor="middle" class="tk" style="font-size:9.6px">0</text>
<text x="59.87" y="591.3" text-anchor="middle" class="tk" style="font-size:9.6px">1</text>
<text x="76.84" y="591.3" text-anchor="middle" class="tk" style="font-size:9.6px">2</text>
<text x="93.81" y="591.3" text-anchor="middle" class="tk" style="font-size:9.6px">3</text>
<text x="110.78" y="591.3" text-anchor="middle" class="tk" style="font-size:9.6px">4</text>
<text x="127.75" y="591.3" text-anchor="middle" class="tk" style="font-size:9.6px">5</text>
<text x="144.72" y="591.3" text-anchor="middle" class="tk" style="font-size:9.6px">6</text>
<text x="161.69" y="591.3" text-anchor="middle" class="tk" style="font-size:9.6px">7</text>
<text x="178.66" y="591.3" text-anchor="middle" class="tk" style="font-size:9.6px">8</text>
<text x="195.63" y="591.3" text-anchor="middle" class="tk" style="font-size:9.6px">9</text>
<text x="212.6" y="591.3" text-anchor="middle" class="tk" style="font-size:9.6px">10</text>
<text x="229.57" y="591.3" text-anchor="middle" class="tk" style="font-size:9.6px">11</text>
<text x="246.54" y="591.3" text-anchor="middle" class="tk" style="font-size:9.6px">12</text>
<text x="263.51" y="591.3" text-anchor="middle" class="tk" style="font-size:9.6px">13</text>
<text x="280.48" y="591.3" text-anchor="middle" class="tk" style="font-size:9.6px">14</text>
<text x="297.45" y="591.3" text-anchor="middle" class="tk" style="font-size:9.6px">15</text>
<text x="314.42" y="591.3" text-anchor="middle" class="tk" style="font-size:9.6px">16</text>
<text x="331.39" y="591.3" text-anchor="middle" class="tk" style="font-size:9.6px">17</text>
<text x="348.36" y="591.3" text-anchor="middle" class="tk" style="font-size:9.6px">18</text>
<path d="M37.4 574.7H42.9M37.4 549.24H42.9M37.4 523.78H42.9M37.4 498.32H42.9M37.4 472.86H42.9M37.4 447.4H42.9M42.9 574.7V580.2M59.87 574.7V580.2M76.84 574.7V580.2M93.81 574.7V580.2M110.78 574.7V580.2M127.75 574.7V580.2M144.72 574.7V580.2M161.69 574.7V580.2M178.66 574.7V580.2M195.63 574.7V580.2M212.6 574.7V580.2M229.57 574.7V580.2M246.54 574.7V580.2M263.51 574.7V580.2M280.48 574.7V580.2M297.45 574.7V580.2M314.42 574.7V580.2M331.39 574.7V580.2M348.36 574.7V580.2" fill="none" stroke="#000" stroke-width="1.75"/>
<rect x="117.5" y="446.6" width="122.7" height="100.4" fill="none" stroke="#000" stroke-width="1.6"/>
<path d="M263.51 513.8V515.84M260.91 513.8H266.11M260.91 515.84H266.11M280.48 518.18V520.22M277.88 518.18H283.08M277.88 520.22H283.08M297.45 510.69V512.73M294.85 510.69H300.05M294.85 512.73H300.05M314.42 515.58V518.64M311.82 515.58H317.02M311.82 518.64H317.02M331.39 512.48V515.53M328.79 512.48H333.99M328.79 515.53H333.99M348.36 516.6V519.66M345.76 516.6H350.96M345.76 519.66H350.96" fill="none" stroke="#a5a5a5" stroke-width="1"/>
<polyline points="59.87,508.61 76.84,509.42 93.81,504.48 110.78,508.61 127.75,502.7 144.72,506.62 161.69,507.13 178.66,521.23 195.63,513.49 212.6,507.89 229.57,512.68 246.54,514.31 263.51,514.82 280.48,519.2 297.45,511.71 314.42,517.11 331.39,514 348.36,518.13" fill="none" stroke="#a5a5a5" stroke-width="1.4"/>
<g fill="#a5a5a5"><path d="M59.87 506.06L62.55 511.03H57.19Z"/><path d="M76.84 506.87L79.52 511.84H74.16Z"/><path d="M93.81 501.93L96.49 506.9H91.13Z"/><path d="M110.78 506.06L113.46 511.03H108.1Z"/><path d="M127.75 500.15L130.43 505.12H125.07Z"/><path d="M144.72 504.07L147.4 509.04H142.04Z"/><path d="M161.69 504.58L164.37 509.55H159.01Z"/><path d="M178.66 518.68L181.34 523.66H175.98Z"/><path d="M195.63 510.94L198.31 515.92H192.95Z"/><path d="M212.6 505.34L215.28 510.32H209.92Z"/><path d="M229.57 510.13L232.25 515.1H226.89Z"/><path d="M246.54 511.76L249.22 516.73H243.86Z"/><path d="M263.51 512.27L266.19 517.24H260.83Z"/><path d="M280.48 516.65L283.16 521.62H277.8Z"/><path d="M297.45 509.16L300.13 514.13H294.77Z"/><path d="M314.42 514.56L317.1 519.53H311.74Z"/><path d="M331.39 511.45L334.07 516.43H328.71Z"/><path d="M348.36 515.58L351.04 520.55H345.68Z"/></g>
<path d="M263.51 503.26V508.35M260.91 503.26H266.11M260.91 508.35H266.11M280.48 506.11V510.69M277.88 506.11H283.08M277.88 510.69H283.08M297.45 504.33V508.91M294.85 504.33H300.05M294.85 508.91H300.05M314.42 511.76V514.82M311.82 511.76H317.02M311.82 514.82H317.02M331.39 502.75V507.84M328.79 502.75H333.99M328.79 507.84H333.99M348.36 506.11V510.69M345.76 506.11H350.96M345.76 510.69H350.96" fill="none" stroke="#111" stroke-width="1"/>
<polyline points="59.87,503.72 76.84,499.59 93.81,497.81 110.78,491.9 127.75,474.9 144.72,475.2 161.69,477.49 178.66,478.31 195.63,472.86 212.6,476.98 229.57,480.6 246.54,495.32 263.51,505.81 280.48,508.4 297.45,506.62 314.42,513.29 331.39,505.3 348.36,508.4" fill="none" stroke="#111" stroke-width="1.35"/>
<g fill="#111"><circle cx="59.87" cy="503.72" r="2.7"/><circle cx="76.84" cy="499.59" r="2.7"/><circle cx="93.81" cy="497.81" r="2.7"/><circle cx="110.78" cy="491.9" r="2.7"/><circle cx="127.75" cy="474.9" r="2.7"/><circle cx="144.72" cy="475.2" r="2.7"/><circle cx="161.69" cy="477.49" r="2.7"/><circle cx="178.66" cy="478.31" r="2.7"/><circle cx="195.63" cy="472.86" r="2.7"/><circle cx="212.6" cy="476.98" r="2.7"/><circle cx="229.57" cy="480.6" r="2.7"/><circle cx="246.54" cy="495.32" r="2.7"/><circle cx="263.51" cy="505.81" r="2.7"/><circle cx="280.48" cy="508.4" r="2.7"/><circle cx="297.45" cy="506.62" r="2.7"/><circle cx="314.42" cy="513.29" r="2.7"/><circle cx="331.39" cy="505.3" r="2.7"/><circle cx="348.36" cy="508.4" r="2.7"/></g>
<path d="M110.78 478.3L110.78 476M110.78 478.3L112.97 477.59M110.78 478.3L112.13 480.16M110.78 478.3L109.43 480.16M110.78 478.3L108.59 477.59M127.75 461.6L127.75 459.3M127.75 461.6L129.94 460.89M127.75 461.6L129.1 463.46M127.75 461.6L126.4 463.46M127.75 461.6L125.56 460.89M144.72 462.1L144.72 459.8M144.72 462.1L146.91 461.39M144.72 462.1L146.07 463.96M144.72 462.1L143.37 463.96M144.72 462.1L142.53 461.39M161.69 462.1L161.69 459.8M161.69 462.1L163.88 461.39M161.69 462.1L163.04 463.96M161.69 462.1L160.34 463.96M161.69 462.1L159.5 461.39M178.66 464.1L178.66 461.8M178.66 464.1L180.85 463.39M178.66 464.1L180.01 465.96M178.66 464.1L177.31 465.96M178.66 464.1L176.47 463.39M195.63 461L195.63 458.7M195.63 461L197.82 460.29M195.63 461L196.98 462.86M195.63 461L194.28 462.86M195.63 461L193.44 460.29M212.6 462.6L212.6 460.3M212.6 462.6L214.79 461.89M212.6 462.6L213.95 464.46M212.6 462.6L211.25 464.46M212.6 462.6L210.41 461.89M229.57 467L229.57 464.7M229.57 467L231.76 466.29M229.57 467L230.92 468.86M229.57 467L228.22 468.86M229.57 467L227.38 466.29M246.54 482.1L246.54 479.8M246.54 482.1L248.73 481.39M246.54 482.1L247.89 483.96M246.54 482.1L245.19 483.96M246.54 482.1L244.35 481.39M288.5 454.4L288.5 452.1M288.5 454.4L290.69 453.69M288.5 454.4L289.85 456.26M288.5 454.4L287.15 456.26M288.5 454.4L286.31 453.69" fill="none" stroke="#222" stroke-width="1.05" stroke-linecap="round"/>
<text x="295.4" y="462.1" class="pt" style="font-size:10.8px">P ≤ 0.0001</text>
<text transform="translate(28.2 434.1) scale(0.74 1)" class="lt" style="font-size:25.9px">E</text>
<text transform="translate(16 511.2) rotate(-90)" text-anchor="middle" class="yl" style="font-size:10.5px">panting score</text>
<text x="195.7" y="606.8" text-anchor="middle" class="yl" style="font-size:10.3px">day</text>
<path d="M416.7 447.4V574.2H720.9" fill="none" stroke="#000" stroke-width="1.75"/>
<text x="409.8" y="577.56" text-anchor="end" class="tk" style="font-size:9.6px">18</text>
<text x="409.8" y="561.71" text-anchor="end" class="tk" style="font-size:9.6px">20</text>
<text x="409.8" y="545.86" text-anchor="end" class="tk" style="font-size:9.6px">22</text>
<text x="409.8" y="530.01" text-anchor="end" class="tk" style="font-size:9.6px">24</text>
<text x="409.8" y="514.16" text-anchor="end" class="tk" style="font-size:9.6px">26</text>
<text x="409.8" y="498.31" text-anchor="end" class="tk" style="font-size:9.6px">28</text>
<text x="409.8" y="482.46" text-anchor="end" class="tk" style="font-size:9.6px">30</text>
<text x="409.8" y="466.61" text-anchor="end" class="tk" style="font-size:9.6px">32</text>
<text x="409.8" y="450.76" text-anchor="end" class="tk" style="font-size:9.6px">34</text>
<text x="416.7" y="591" text-anchor="middle" class="tk" style="font-size:9.6px">0</text>
<text x="433.6" y="591" text-anchor="middle" class="tk" style="font-size:9.6px">1</text>
<text x="450.5" y="591" text-anchor="middle" class="tk" style="font-size:9.6px">2</text>
<text x="467.4" y="591" text-anchor="middle" class="tk" style="font-size:9.6px">3</text>
<text x="484.3" y="591" text-anchor="middle" class="tk" style="font-size:9.6px">4</text>
<text x="501.2" y="591" text-anchor="middle" class="tk" style="font-size:9.6px">5</text>
<text x="518.1" y="591" text-anchor="middle" class="tk" style="font-size:9.6px">6</text>
<text x="535" y="591" text-anchor="middle" class="tk" style="font-size:9.6px">7</text>
<text x="551.9" y="591" text-anchor="middle" class="tk" style="font-size:9.6px">8</text>
<text x="568.8" y="591" text-anchor="middle" class="tk" style="font-size:9.6px">9</text>
<text x="585.7" y="591" text-anchor="middle" class="tk" style="font-size:9.6px">10</text>
<text x="602.6" y="591" text-anchor="middle" class="tk" style="font-size:9.6px">11</text>
<text x="619.5" y="591" text-anchor="middle" class="tk" style="font-size:9.6px">12</text>
<text x="636.4" y="591" text-anchor="middle" class="tk" style="font-size:9.6px">13</text>
<text x="653.3" y="591" text-anchor="middle" class="tk" style="font-size:9.6px">14</text>
<text x="670.2" y="591" text-anchor="middle" class="tk" style="font-size:9.6px">15</text>
<text x="687.1" y="591" text-anchor="middle" class="tk" style="font-size:9.6px">16</text>
<text x="704" y="591" text-anchor="middle" class="tk" style="font-size:9.6px">17</text>
<text x="720.9" y="591" text-anchor="middle" class="tk" style="font-size:9.6px">18</text>
<path d="M411.2 574.2H416.7M411.2 558.35H416.7M411.2 542.5H416.7M411.2 526.65H416.7M411.2 510.8H416.7M411.2 494.95H416.7M411.2 479.1H416.7M411.2 463.25H416.7M411.2 447.4H416.7M416.7 574.2V579.7M433.6 574.2V579.7M450.5 574.2V579.7M467.4 574.2V579.7M484.3 574.2V579.7M501.2 574.2V579.7M518.1 574.2V579.7M535 574.2V579.7M551.9 574.2V579.7M568.8 574.2V579.7M585.7 574.2V579.7M602.6 574.2V579.7M619.5 574.2V579.7M636.4 574.2V579.7M653.3 574.2V579.7M670.2 574.2V579.7M687.1 574.2V579.7M704 574.2V579.7M720.9 574.2V579.7" fill="none" stroke="#000" stroke-width="1.75"/>
<rect x="491" y="447.9" width="122.4" height="101.1" fill="none" stroke="#000" stroke-width="1.6"/>
<path d="M433.6 518.41V523.96M431 518.41H436.2M431 523.96H436.2M450.5 521.34V526.89M447.9 521.34H453.1M447.9 526.89H453.1M467.4 528.24V533.78M464.8 528.24H470M464.8 533.78H470M484.3 518.41V523.96M481.7 518.41H486.9M481.7 523.96H486.9M501.2 529.27V534.81M498.6 529.27H503.8M498.6 534.81H503.8M518.1 527.2V532.75M515.5 527.2H520.7M515.5 532.75H520.7M535 529.27V534.81M532.4 529.27H537.6M532.4 534.81H537.6M551.9 519.44V524.99M549.3 519.44H554.5M549.3 524.99H554.5M568.8 524.83V530.37M566.2 524.83H571.4M566.2 530.37H571.4M585.7 532.04V537.59M583.1 532.04H588.3M583.1 537.59H588.3M602.6 527.6V533.15M600 527.6H605.2M600 533.15H605.2M619.5 523.88V529.42M616.9 523.88H622.1M616.9 529.42H622.1M636.4 522.53V528.08M633.8 522.53H639M633.8 528.08H639M653.3 521.5V527.05M650.7 521.5H655.9M650.7 527.05H655.9M670.2 519.91V525.46M667.6 519.91H672.8M667.6 525.46H672.8M687.1 517.14V522.69M684.5 517.14H689.7M684.5 522.69H689.7M704 520.23V525.78M701.4 520.23H706.6M701.4 525.78H706.6M720.9 524.35V529.9M718.3 524.35H723.5M718.3 529.9H723.5" fill="none" stroke="#a5a5a5" stroke-width="1"/>
<polyline points="433.6,521.18 450.5,524.11 467.4,531.01 484.3,521.18 501.2,532.04 518.1,529.98 535,532.04 551.9,522.21 568.8,527.6 585.7,534.81 602.6,530.37 619.5,526.65 636.4,525.3 653.3,524.27 670.2,522.69 687.1,519.91 704,523 720.9,527.13" fill="none" stroke="#a5a5a5" stroke-width="1.4"/>
<g fill="#a5a5a5"><path d="M433.6 518.63L436.28 523.6H430.92Z"/><path d="M450.5 521.56L453.18 526.54H447.82Z"/><path d="M467.4 528.46L470.08 533.43H464.72Z"/><path d="M484.3 518.63L486.98 523.6H481.62Z"/><path d="M501.2 529.49L503.88 534.46H498.52Z"/><path d="M518.1 527.43L520.78 532.4H515.42Z"/><path d="M535 529.49L537.68 534.46H532.32Z"/><path d="M551.9 519.66L554.58 524.63H549.22Z"/><path d="M568.8 525.05L571.48 530.02H566.12Z"/><path d="M585.7 532.26L588.38 537.24H583.02Z"/><path d="M602.6 527.82L605.28 532.8H599.92Z"/><path d="M619.5 524.1L622.18 529.07H616.82Z"/><path d="M636.4 522.75L639.08 527.73H633.72Z"/><path d="M653.3 521.72L655.98 526.7H650.62Z"/><path d="M670.2 520.14L672.88 525.11H667.52Z"/><path d="M687.1 517.36L689.78 522.34H684.42Z"/><path d="M704 520.45L706.68 525.43H701.32Z"/><path d="M720.9 524.58L723.58 529.55H718.22Z"/></g>
<path d="M433.6 508.03V512.78M431 508.03H436.2M431 512.78H436.2M450.5 514.52V519.28M447.9 514.52H453.1M447.9 519.28H453.1M467.4 511.91V516.66M464.8 511.91H470M464.8 516.66H470M484.3 499.31V504.06M481.7 499.31H486.9M481.7 504.06H486.9M501.2 478.7V483.46M498.6 478.7H503.8M498.6 483.46H503.8M518.1 477.75V482.51M515.5 477.75H520.7M515.5 482.51H520.7M535 478.23V482.98M532.4 478.23H537.6M532.4 482.98H537.6M551.9 480.53V485.28M549.3 480.53H554.5M549.3 485.28H554.5M568.8 474.58V479.34M566.2 474.58H571.4M566.2 479.34H571.4M585.7 465.31V470.07M583.1 465.31H588.3M583.1 470.07H588.3M602.6 473.55V478.31M600 473.55H605.2M600 478.31H605.2M619.5 502.32V507.08M616.9 502.32H622.1M616.9 507.08H622.1M636.4 506.76V511.51M633.8 506.76H639M633.8 511.51H639M653.3 510.64V515.4M650.7 510.64H655.9M650.7 515.4H655.9M670.2 510.64V515.4M667.6 510.64H672.8M667.6 515.4H672.8M687.1 509.29V514.05M684.5 509.29H689.7M684.5 514.05H689.7M704 509.53V514.29M701.4 509.53H706.6M701.4 514.29H706.6M720.9 510.32V515.08M718.3 510.32H723.5M718.3 515.08H723.5" fill="none" stroke="#111" stroke-width="1"/>
<polyline points="433.6,510.4 450.5,516.9 467.4,514.29 484.3,501.69 501.2,481.08 518.1,480.13 535,480.61 551.9,482.9 568.8,476.96 585.7,467.69 602.6,475.93 619.5,504.7 636.4,509.14 653.3,513.02 670.2,513.02 687.1,511.67 704,511.91 720.9,512.7" fill="none" stroke="#111" stroke-width="1.35"/>
<g fill="#111"><circle cx="433.6" cy="510.4" r="2.7"/><circle cx="450.5" cy="516.9" r="2.7"/><circle cx="467.4" cy="514.29" r="2.7"/><circle cx="484.3" cy="501.69" r="2.7"/><circle cx="501.2" cy="481.08" r="2.7"/><circle cx="518.1" cy="480.13" r="2.7"/><circle cx="535" cy="480.61" r="2.7"/><circle cx="551.9" cy="482.9" r="2.7"/><circle cx="568.8" cy="476.96" r="2.7"/><circle cx="585.7" cy="467.69" r="2.7"/><circle cx="602.6" cy="475.93" r="2.7"/><circle cx="619.5" cy="504.7" r="2.7"/><circle cx="636.4" cy="509.14" r="2.7"/><circle cx="653.3" cy="513.02" r="2.7"/><circle cx="670.2" cy="513.02" r="2.7"/><circle cx="687.1" cy="511.67" r="2.7"/><circle cx="704" cy="511.91" r="2.7"/><circle cx="720.9" cy="512.7" r="2.7"/></g>
<path d="M467.4 501.4L467.4 499.1M467.4 501.4L469.59 500.69M467.4 501.4L468.75 503.26M467.4 501.4L466.05 503.26M467.4 501.4L465.21 500.69M484.3 487.3L484.3 485M484.3 487.3L486.49 486.59M484.3 487.3L485.65 489.16M484.3 487.3L482.95 489.16M484.3 487.3L482.11 486.59M501.2 469.8L501.2 467.5M501.2 469.8L503.39 469.09M501.2 469.8L502.55 471.66M501.2 469.8L499.85 471.66M501.2 469.8L499.01 469.09M518.1 469.8L518.1 467.5M518.1 469.8L520.29 469.09M518.1 469.8L519.45 471.66M518.1 469.8L516.75 471.66M518.1 469.8L515.91 469.09M535 471.3L535 469M535 471.3L537.19 470.59M535 471.3L536.35 473.16M535 471.3L533.65 473.16M535 471.3L532.81 470.59M551.9 473.6L551.9 471.3M551.9 473.6L554.09 472.89M551.9 473.6L553.25 475.46M551.9 473.6L550.55 475.46M551.9 473.6L549.71 472.89M568.8 466.7L568.8 464.4M568.8 466.7L570.99 465.99M568.8 466.7L570.15 468.56M568.8 466.7L567.45 468.56M568.8 466.7L566.61 465.99M585.7 458.5L585.7 456.2M585.7 458.5L587.89 457.79M585.7 458.5L587.05 460.36M585.7 458.5L584.35 460.36M585.7 458.5L583.51 457.79M602.6 466.7L602.6 464.4M602.6 466.7L604.79 465.99M602.6 466.7L603.95 468.56M602.6 466.7L601.25 468.56M602.6 466.7L600.41 465.99M619.5 491.1L619.5 488.8M619.5 491.1L621.69 490.39M619.5 491.1L620.85 492.96M619.5 491.1L618.15 492.96M619.5 491.1L617.31 490.39M660.4 454.3L660.4 452M660.4 454.3L662.59 453.59M660.4 454.3L661.75 456.16M660.4 454.3L659.05 456.16M660.4 454.3L658.21 453.59" fill="none" stroke="#222" stroke-width="1.05" stroke-linecap="round"/>
<text x="667.8" y="462" class="pt" style="font-size:10.85px">P ≤ 0.0001</text>
<text transform="translate(403.8 434.5) scale(0.785 1)" class="lt" style="font-size:26.5px">F</text>
<text transform="translate(392 511) rotate(-90)" text-anchor="middle" class="yl" style="font-size:10.73px">head surface temperature (°C)</text>
<text x="569.2" y="606.7" text-anchor="middle" class="yl" style="font-size:10.3px">day</text>
<path d="M43.3 654.1V780.2H346.42" fill="none" stroke="#000" stroke-width="1.75"/>
<text x="36.4" y="783.56" text-anchor="end" class="tk" style="font-size:9.6px">20</text>
<text x="36.4" y="758.34" text-anchor="end" class="tk" style="font-size:9.6px">30</text>
<text x="36.4" y="733.12" text-anchor="end" class="tk" style="font-size:9.6px">40</text>
<text x="36.4" y="707.9" text-anchor="end" class="tk" style="font-size:9.6px">50</text>
<text x="36.4" y="682.68" text-anchor="end" class="tk" style="font-size:9.6px">60</text>
<text x="36.4" y="657.46" text-anchor="end" class="tk" style="font-size:9.6px">70</text>
<text x="43.3" y="796.6" text-anchor="middle" class="tk" style="font-size:9.6px">0</text>
<text x="60.14" y="796.6" text-anchor="middle" class="tk" style="font-size:9.6px">1</text>
<text x="76.98" y="796.6" text-anchor="middle" class="tk" style="font-size:9.6px">2</text>
<text x="93.82" y="796.6" text-anchor="middle" class="tk" style="font-size:9.6px">3</text>
<text x="110.66" y="796.6" text-anchor="middle" class="tk" style="font-size:9.6px">4</text>
<text x="127.5" y="796.6" text-anchor="middle" class="tk" style="font-size:9.6px">5</text>
<text x="144.34" y="796.6" text-anchor="middle" class="tk" style="font-size:9.6px">6</text>
<text x="161.18" y="796.6" text-anchor="middle" class="tk" style="font-size:9.6px">7</text>
<text x="178.02" y="796.6" text-anchor="middle" class="tk" style="font-size:9.6px">8</text>
<text x="194.86" y="796.6" text-anchor="middle" class="tk" style="font-size:9.6px">9</text>
<text x="211.7" y="796.6" text-anchor="middle" class="tk" style="font-size:9.6px">10</text>
<text x="228.54" y="796.6" text-anchor="middle" class="tk" style="font-size:9.6px">11</text>
<text x="245.38" y="796.6" text-anchor="middle" class="tk" style="font-size:9.6px">12</text>
<text x="262.22" y="796.6" text-anchor="middle" class="tk" style="font-size:9.6px">13</text>
<text x="279.06" y="796.6" text-anchor="middle" class="tk" style="font-size:9.6px">14</text>
<text x="295.9" y="796.6" text-anchor="middle" class="tk" style="font-size:9.6px">15</text>
<text x="312.74" y="796.6" text-anchor="middle" class="tk" style="font-size:9.6px">16</text>
<text x="329.58" y="796.6" text-anchor="middle" class="tk" style="font-size:9.6px">17</text>
<text x="346.42" y="796.6" text-anchor="middle" class="tk" style="font-size:9.6px">18</text>
<path d="M37.8 780.2H43.3M37.8 754.98H43.3M37.8 729.76H43.3M37.8 704.54H43.3M37.8 679.32H43.3M37.8 654.1H43.3M43.3 780.2V785.7M60.14 780.2V785.7M76.98 780.2V785.7M93.82 780.2V785.7M110.66 780.2V785.7M127.5 780.2V785.7M144.34 780.2V785.7M161.18 780.2V785.7M178.02 780.2V785.7M194.86 780.2V785.7M211.7 780.2V785.7M228.54 780.2V785.7M245.38 780.2V785.7M262.22 780.2V785.7M279.06 780.2V785.7M295.9 780.2V785.7M312.74 780.2V785.7M329.58 780.2V785.7M346.42 780.2V785.7" fill="none" stroke="#000" stroke-width="1.75"/>
<rect x="116.7" y="654.6" width="122.2" height="100.6" fill="none" stroke="#000" stroke-width="1.6"/>
<path d="M60.14 679.82V694.96M57.54 679.82H62.74M57.54 694.96H62.74M76.98 694.45V709.58M74.38 694.45H79.58M74.38 709.58H79.58M93.82 700.25V715.38M91.22 700.25H96.42M91.22 715.38H96.42M110.66 694.7V709.84M108.06 694.7H113.26M108.06 709.84H113.26M127.5 696.47V711.6M124.9 696.47H130.1M124.9 711.6H130.1M144.34 708.83V723.96M141.74 708.83H146.94M141.74 723.96H146.94M161.18 709.58V724.72M158.58 709.58H163.78M158.58 724.72H163.78M178.02 725.98V741.11M175.42 725.98H180.62M175.42 741.11H180.62M194.86 724.46V739.6M192.26 724.46H197.46M192.26 739.6H197.46M211.7 717.65V732.79M209.1 717.65H214.3M209.1 732.79H214.3M228.54 729V744.14M225.94 729H231.14M225.94 744.14H231.14M245.38 734.8V749.94M242.78 734.8H247.98M242.78 749.94H247.98M262.22 712.61V727.74M259.62 712.61H264.82M259.62 727.74H264.82M279.06 735.81V750.94M276.46 735.81H281.66M276.46 750.94H281.66M295.9 729.51V744.64M293.3 729.51H298.5M293.3 744.64H298.5M312.74 715.13V730.26M310.14 715.13H315.34M310.14 730.26H315.34M329.58 723.46V738.59M326.98 723.46H332.18M326.98 738.59H332.18M346.42 712.36V727.49M343.82 712.36H349.02M343.82 727.49H349.02" fill="none" stroke="#a5a5a5" stroke-width="1"/>
<polyline points="60.14,687.39 76.98,702.02 93.82,707.82 110.66,702.27 127.5,704.04 144.34,716.39 161.18,717.15 178.02,733.54 194.86,732.03 211.7,725.22 228.54,736.57 245.38,742.37 262.22,720.18 279.06,743.38 295.9,737.07 312.74,722.7 329.58,731.02 346.42,719.92" fill="none" stroke="#a5a5a5" stroke-width="1.4"/>
<g fill="#a5a5a5"><path d="M60.14 684.84L62.82 689.81H57.46Z"/><path d="M76.98 699.47L79.66 704.44H74.3Z"/><path d="M93.82 705.27L96.5 710.24H91.14Z"/><path d="M110.66 699.72L113.34 704.69H107.98Z"/><path d="M127.5 701.49L130.18 706.46H124.82Z"/><path d="M144.34 713.84L147.02 718.82H141.66Z"/><path d="M161.18 714.6L163.86 719.57H158.5Z"/><path d="M178.02 730.99L180.7 735.97H175.34Z"/><path d="M194.86 729.48L197.54 734.45H192.18Z"/><path d="M211.7 722.67L214.38 727.64H209.02Z"/><path d="M228.54 734.02L231.22 738.99H225.86Z"/><path d="M245.38 739.82L248.06 744.79H242.7Z"/><path d="M262.22 717.63L264.9 722.6H259.54Z"/><path d="M279.06 740.83L281.74 745.8H276.38Z"/><path d="M295.9 734.52L298.58 739.5H293.22Z"/><path d="M312.74 720.15L315.42 725.12H310.06Z"/><path d="M329.58 728.47L332.26 733.44H326.9Z"/><path d="M346.42 717.37L349.1 722.35H343.74Z"/></g>
<path d="M60.14 675.54V690.67M57.54 675.54H62.74M57.54 690.67H62.74M76.98 692.69V707.82M74.38 692.69H79.58M74.38 707.82H79.58M93.82 698.99V714.12M91.22 698.99H96.42M91.22 714.12H96.42M110.66 702.77V717.91M108.06 702.77H113.26M108.06 717.91H113.26M127.5 697.73V712.86M124.9 697.73H130.1M124.9 712.86H130.1M144.34 696.47V711.6M141.74 696.47H146.94M141.74 711.6H146.94M161.18 687.39V702.52M158.58 687.39H163.78M158.58 702.52H163.78M178.02 692.18V707.31M175.42 692.18H180.62M175.42 707.31H180.62M194.86 680.33V695.46M192.26 680.33H197.46M192.26 695.46H197.46M211.7 688.9V704.04M209.1 688.9H214.3M209.1 704.04H214.3M228.54 682.09V697.23M225.94 682.09H231.14M225.94 697.23H231.14M245.38 692.69V707.82M242.78 692.69H247.98M242.78 707.82H247.98M262.22 708.83V723.96M259.62 708.83H264.82M259.62 723.96H264.82M279.06 716.14V731.27M276.46 716.14H281.66M276.46 731.27H281.66M295.9 718.41V733.54M293.3 718.41H298.5M293.3 733.54H298.5M312.74 707.82V722.95M310.14 707.82H315.34M310.14 722.95H315.34M329.58 717.91V733.04M326.98 717.91H332.18M326.98 733.04H332.18M346.42 722.7V737.83M343.82 722.7H349.02M343.82 737.83H349.02" fill="none" stroke="#111" stroke-width="1"/>
<polyline points="60.14,683.1 76.98,700.25 93.82,706.56 110.66,710.34 127.5,705.3 144.34,704.04 161.18,694.96 178.02,699.75 194.86,687.89 211.7,696.47 228.54,689.66 245.38,700.25 262.22,716.39 279.06,723.71 295.9,725.98 312.74,715.38 329.58,725.47 346.42,730.26" fill="none" stroke="#111" stroke-width="1.35"/>
<g fill="#111"><circle cx="60.14" cy="683.1" r="2.7"/><circle cx="76.98" cy="700.25" r="2.7"/><circle cx="93.82" cy="706.56" r="2.7"/><circle cx="110.66" cy="710.34" r="2.7"/><circle cx="127.5" cy="705.3" r="2.7"/><circle cx="144.34" cy="704.04" r="2.7"/><circle cx="161.18" cy="694.96" r="2.7"/><circle cx="178.02" cy="699.75" r="2.7"/><circle cx="194.86" cy="687.89" r="2.7"/><circle cx="211.7" cy="696.47" r="2.7"/><circle cx="228.54" cy="689.66" r="2.7"/><circle cx="245.38" cy="700.25" r="2.7"/><circle cx="262.22" cy="716.39" r="2.7"/><circle cx="279.06" cy="723.71" r="2.7"/><circle cx="295.9" cy="725.98" r="2.7"/><circle cx="312.74" cy="715.38" r="2.7"/><circle cx="329.58" cy="725.47" r="2.7"/><circle cx="346.42" cy="730.26" r="2.7"/></g>
<path d="M178.02 682.3L178.02 680M178.02 682.3L180.21 681.59M178.02 682.3L179.37 684.16M178.02 682.3L176.67 684.16M178.02 682.3L175.83 681.59M194.86 672.4L194.86 670.1M194.86 672.4L197.05 671.69M194.86 672.4L196.21 674.26M194.86 672.4L193.51 674.26M194.86 672.4L192.67 671.69M211.7 678.1L211.7 675.8M211.7 678.1L213.89 677.39M211.7 678.1L213.05 679.96M211.7 678.1L210.35 679.96M211.7 678.1L209.51 677.39M228.54 673.4L228.54 671.1M228.54 673.4L230.73 672.69M228.54 673.4L229.89 675.26M228.54 673.4L227.19 675.26M228.54 673.4L226.35 672.69M245.38 682.3L245.38 680M245.38 682.3L247.57 681.59M245.38 682.3L246.73 684.16M245.38 682.3L244.03 684.16M245.38 682.3L243.19 681.59M285.8 661.5L285.8 659.2M285.8 661.5L287.99 660.79M285.8 661.5L287.15 663.36M285.8 661.5L284.45 663.36M285.8 661.5L283.61 660.79" fill="none" stroke="#222" stroke-width="1.05" stroke-linecap="round"/>
<text x="292.9" y="669.9" class="pt" style="font-size:10.9px">P ≤ 0.0012</text>
<text transform="translate(25.7 639.3) scale(0.876 1)" class="lt" style="font-size:26.2px">G</text>
<text transform="translate(17.9 717.55) rotate(-90)" text-anchor="middle" class="yl" style="font-size:10.58px">water consumption (L/steer)</text>
<text x="194.65" y="812.8" text-anchor="middle" class="yl" style="font-size:10.3px">day</text>

<path d="M489.2 669.1H511.8" stroke="#000" stroke-width="1.2"/>
<circle cx="500.5" cy="669.2" r="3.6" fill="#000"/>
<text x="525.0" y="675.9" class="lg" style="font-size:16.8px">TC</text>
<path d="M489.2 697.9H511.8" stroke="#b0b0b0" stroke-width="1.4"/>
<path d="M500.6 694.1L504.7 701.9H496.5Z" fill="#8e8e8e"/>
<text x="528.7" y="704.4" class="lg" style="font-size:17.2px">FRTN</text>
<rect x="479.2" y="717.0" width="32.7" height="26.6" fill="none" stroke="#000" stroke-width="1.8"/>
<text x="526.9" y="734.6" class="lg" style="font-size:17.0px">Challenge period</text>

</svg>
</body></html>
